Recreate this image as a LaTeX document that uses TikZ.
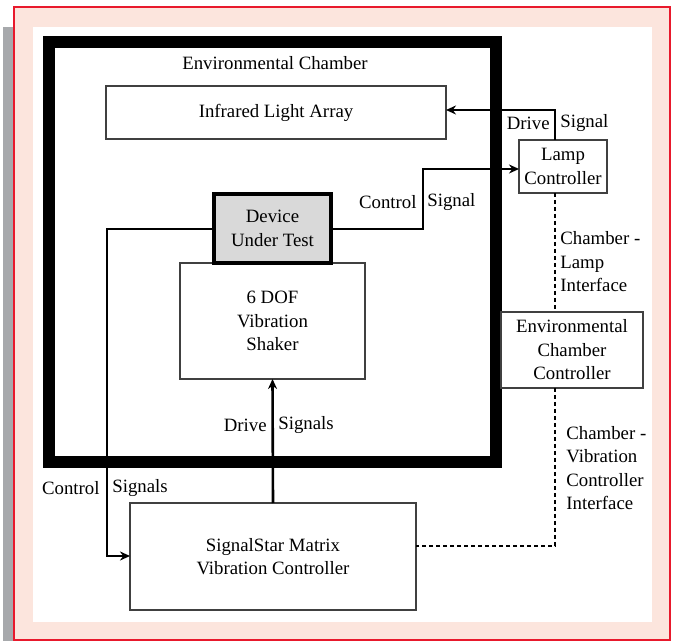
\documentclass[tikz,border=0pt]{standalone}
\usepackage{fontspec}
\setmainfont{Liberation Serif}
\usetikzlibrary{arrows.meta}

\definecolor{framered}{HTML}{E8192C}
\definecolor{framepink}{HTML}{FCE5DD}
\definecolor{bargrey}{HTML}{A7A9AC}
\definecolor{dutgrey}{HTML}{D9D9D9}
\newcommand{\diagfont}{\fontsize{9.4}{11.75}\selectfont}

\tikzset{
  block/.style={draw=black!75, line width=0.6pt, align=center, font=\diagfont, inner sep=0pt, outer sep=0pt},
  wire/.style={line width=1.3pt, -{Stealth[length=5pt, width=4.5pt]}},
  iface/.style={line width=0.7pt, dash pattern=on 2pt off 1.5pt},
  tag/.style={font=\diagfont, inner sep=1pt},
}

\begin{document}
\begin{tikzpicture}[x=0.5pt, y=-0.5pt]

        % --- CORNICE ---
        \useasboundingbox (0,0) rectangle (675,641);
        \fill[bargrey] (3,27) rectangle (14,641);
        \draw[framered, fill=framepink, line width=1pt] (14,7.5) rectangle (670,639.5);
        \fill[white] (33,27) rectangle (652,622);

        % Camera climatica (bordo spesso)
        \node[draw, line width=6pt, minimum width=223.5pt, minimum height=210pt, inner sep=0pt] (chamber) at (272.5,252) {};
        \node[tag] (chamberlabel) at (275,63) {Environmental Chamber};

        % --- BLOCCHI ---
        \node[block, minimum width=170pt, minimum height=26.5pt] (ira) at (276,112.5) {Infrared Light Array};
        \node[block, minimum width=44pt, minimum height=26.5pt] (lamp) at (563,166.5) {Lamp\\Controller};
        \node[block, minimum width=92.5pt, minimum height=58pt] (shaker) at (272.5,321) {6 DOF\\Vibration\\Shaker};
        \node[block, fill=dutgrey, draw=black, line width=2pt, minimum width=58.5pt, minimum height=34.5pt] (dut) at (272.5,228.5) {Device\\Under Test};
        \node[block, minimum width=71pt, minimum height=38pt] (ecc) at (572,350) {Environmental\\Chamber\\Controller};
        \node[block, minimum width=143pt, minimum height=53.5pt] (ssm) at (273,556.5) {SignalStar Matrix\\Vibration Controller};

        % Punti di piega dei collegamenti
        \coordinate (dsbend) at (555,110);
        \coordinate (csbend) at (423,229);
        \coordinate (cstop) at (423,169);
        \coordinate (ctlbend) at (107,229);
        \coordinate (ctlfoot) at (107,556);
        \coordinate (ifacebend) at (555,546);

        % --- SEGNALI ---
        \draw[wire] (lamp.north -| dsbend) -- (dsbend) -- (ira.east |- dsbend);
        \draw[wire] (dut.east |- csbend) -- (csbend) -- (cstop) -- (lamp.west |- cstop);
        \draw[wire] (dut.west |- ctlbend) -- (ctlbend) -- (ctlfoot) -- (ssm.west |- ctlfoot);
        \draw[wire] (ssm.north) -- (shaker.south);

        % Interfacce (tratteggiate)
        \draw[iface] (lamp.south -| dsbend) -- (ecc.north -| dsbend);
        \draw[iface] (ecc.south -| dsbend) -- (ifacebend) -- (ssm.east |- ifacebend);

        % --- ETICHETTE ---
        \node[tag, anchor=east] (dslabel) at (552,123) {Drive};
        \node[tag, anchor=west] (dslabelb) at (558,123) {Signal};
        \node[tag, anchor=east] (cslabel) at (419,202) {Control};
        \node[tag, anchor=west] (cslabelb) at (425,202) {Signal};
        \node[tag, anchor=east] (dsslabel) at (269,425) {Drive};
        \node[tag, anchor=west] (dsslabelb) at (276,425) {Signals};
        \node[tag, anchor=east] (ctllabel) at (102,488) {Control};
        \node[tag, anchor=west] (ctllabelb) at (110,488) {Signals};
        \node[tag, anchor=west, align=left] (lamplink) at (558,262) {Chamber -\\Lamp\\Interface};
        \node[tag, anchor=west, align=left] (vibrlink) at (564,468) {Chamber -\\Vibration\\Controller\\Interface};

    \end{tikzpicture}
\end{document}
